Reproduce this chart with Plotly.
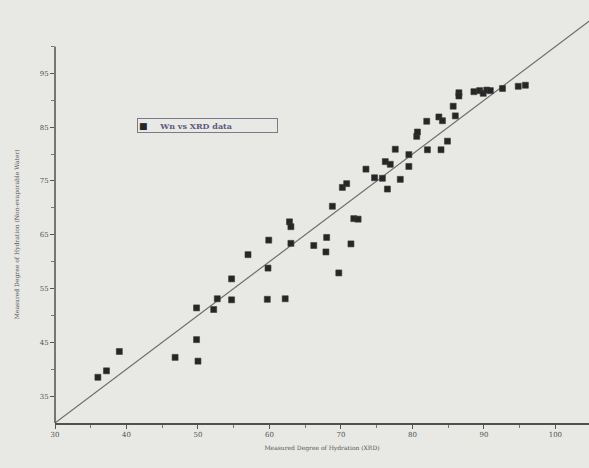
import plotly.graph_objects as go

# ---- data ----
measured_xrd = [36.0, 37.2, 39.0, 46.8, 49.8, 50.0, 49.8, 52.2, 52.7, 54.7, 54.7, 59.7, 62.2, 59.8,
                57.0, 59.9, 63.0, 62.8, 63.0, 66.2, 68.0, 67.9, 69.7, 71.4, 68.8, 71.8, 72.4, 70.2,
                70.8, 73.5, 74.7, 75.8, 76.5, 76.2, 76.9, 77.6, 78.3, 79.5, 79.5, 80.6, 80.7, 82.0,
                82.1, 83.7, 84.2, 84.0, 84.9, 85.7, 86.0, 86.5, 86.5, 88.6, 89.4, 89.9, 90.4, 90.9,
                92.6, 94.8, 95.8]
measured_wn = [38.5, 39.7, 43.3, 42.2, 45.5, 41.5, 51.4, 51.1, 53.1, 52.9, 56.8, 53.0, 53.1, 58.8,
               61.3, 64.0, 63.4, 67.4, 66.5, 63.0, 64.5, 61.8, 57.9, 63.3, 70.3, 68.0, 67.9, 73.8,
               74.5, 77.2, 75.6, 75.5, 73.5, 78.6, 78.1, 80.9, 75.3, 79.9, 77.7, 83.3, 84.1, 86.1,
               80.8, 86.9, 86.2, 80.8, 82.4, 88.9, 87.1, 91.4, 90.8, 91.6, 91.8, 91.3, 91.9, 91.8,
               92.2, 92.6, 92.8]
identity_line = [30, 106]
x_ticks = [30, 40, 50, 60, 70, 80, 90, 100]
y_ticks = [35, 45, 55, 65, 75, 85, 95]
y_minor_ticks = [40, 50, 60, 70, 80, 90, 100]
y_axis_extent = [30, 100]
series_name = "Wn vs XRD data"

ink = "#262626"
grey = "#505050"
bg = "#e8e8e5"

fig = go.Figure()
fig.add_trace(go.Scatter(x=identity_line, y=identity_line, mode="lines",
                         line=dict(color="#6e6e6e", width=1.2), showlegend=False,
                         hoverinfo="skip"))
fig.add_trace(go.Scatter(x=measured_xrd, y=measured_wn, mode="markers", name=series_name,
                         showlegend=False,
                         marker=dict(symbol="square", size=6, color=ink,
                                     line=dict(width=0.6, color="#3a3a3a"))))

fig.update_layout(
    width=589, height=468,
    margin=dict(l=55, r=0, t=18, b=45),
    paper_bgcolor=bg, plot_bgcolor=bg,
    font=dict(family="DejaVu Serif, Liberation Serif, serif", size=7, color=grey),
    showlegend=False,
    xaxis=dict(range=[30, 104.7], tickmode="array", tickvals=x_ticks,
               showgrid=False, zeroline=False, showline=True, linecolor="#505050",
               linewidth=1.5, ticks="outside", ticklen=4, tickcolor="#555",
               tickfont=dict(size=7, color=grey),
               minor=dict(dtick=5, ticks="outside", ticklen=3, tickcolor="#777",
                          showgrid=False),
               title=dict(text="Measured Degree of Hydration (XRD)",
                          font=dict(size=6, color="#555"), standoff=8)),
    yaxis=dict(range=[30, 105.3], tickmode="array", tickvals=y_ticks,
               showgrid=False, zeroline=False, showline=False,
               ticks="outside", ticklen=4, tickcolor="#555",
               tickfont=dict(size=7, color=grey),
               minor=dict(tickmode="array", tickvals=y_minor_ticks,
                          ticks="outside", ticklen=3, tickcolor="#777", showgrid=False)),
    shapes=[dict(type="line", xref="paper", yref="y", x0=0, x1=0,
                 y0=y_axis_extent[0], y1=y_axis_extent[1],
                 line=dict(color="#505050", width=1.5))],
    annotations=[
        dict(text="Measured Degree of Hydration (Non-evaporable Water)",
             xref="paper", yref="y", x=-0.072, y=65, textangle=-90,
             showarrow=False, xanchor="center", yanchor="middle",
             font=dict(size=6, color="#555")),
        dict(text=f"<span style='color:{ink}; font-size:9px'>&#9632;</span>"
                  f"&nbsp;&nbsp;&nbsp;&nbsp;&nbsp;<b>{series_name}</b>",
             xref="paper", yref="paper", x=0.1536, y=0.7346,
             xanchor="left", yanchor="middle", showarrow=False,
             width=137, height=11, align="left", borderpad=1,
             bordercolor="#7a7a8c", borderwidth=1,
             font=dict(size=8, color="#5a5a80")),
    ],
)

fig.write_html("out.html")
